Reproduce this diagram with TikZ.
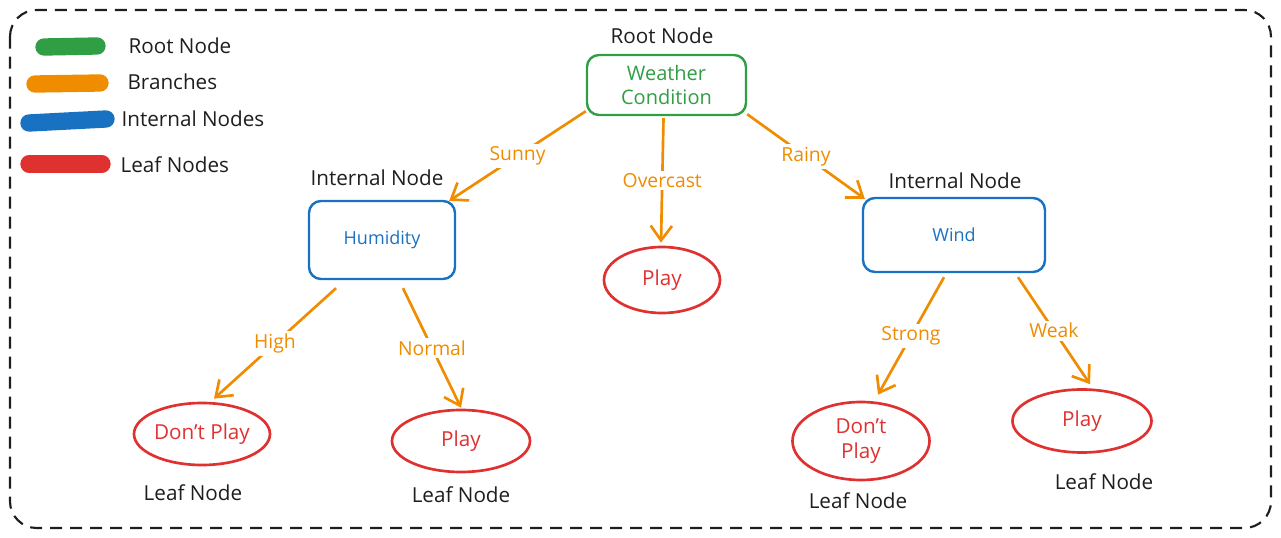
\documentclass[tikz,border=0pt]{standalone}
\usepackage{fontspec}
\setmainfont{Open Sans}
\usetikzlibrary{shapes.geometric,arrows.meta,calc}
\definecolor{cgreen}{HTML}{2F9E44}
\definecolor{corange}{HTML}{F08C00}
\definecolor{cblue}{HTML}{1971C2}
\definecolor{cred}{HTML}{E03131}
\definecolor{cink}{HTML}{1E1E1E}
\tikzset{
  txt/.style={text=cink, font=\fontsize{15.5}{17}\selectfont, inner sep=1pt},
  rootbox/.style={draw=cgreen, line width=1.8pt, rounded corners=9pt, text=cgreen, align=center,
     font=\fontsize{15}{18.5}\selectfont, minimum width=119.25pt, minimum height=45pt, inner sep=0pt},
  intbox/.style={draw=cblue, line width=1.8pt, rounded corners=9pt, text=cblue,
     font=\fontsize{13.5}{15}\selectfont, inner sep=0pt},
  leaf/.style={ellipse, draw=cred, line width=2pt, text=cred, align=center,
     font=\fontsize{15.5}{19}\selectfont, inner sep=0pt},
  branch/.style={draw=corange, line width=2pt, -{Straight Barb[length=11pt,width=16pt,line width=2pt]}},
  blab/.style={fill=white, text=corange, font=\fontsize{14.5}{16}\selectfont, inner sep=2pt},
  legstroke/.style={line width=13pt, line cap=round},
}
\begin{document}
\begin{tikzpicture}[x=0.75pt,y=-0.75pt]
\useasboundingbox (0,0) rectangle (1281,538);
% outer frame
\draw[cink, line width=1.6pt, dash pattern=on 9pt off 6pt, rounded corners=20pt] (10,10) rectangle (1271,528);

% legend
\draw[legstroke, cgreen] (44,47) -- (97,46);
\draw[legstroke, corange] (35,84) -- (100,83);
\draw[legstroke, cblue] (29,123) -- (106,119);
\draw[legstroke, cred] (29,164) -- (102,164);
\node[txt, anchor=west] (lroot) at (127,46) {Root Node};
\node[txt, anchor=west] (lbranch) at (126,82) {Branches};
\node[txt, anchor=west] (lint) at (120,119) {Internal Nodes};
\node[txt, anchor=west] (lleaf) at (119,165) {Leaf Nodes};

% nodes
\node[rootbox] (root) at (666.5,85) {Weather\\Condition};
\node[intbox, minimum width=109.5pt, minimum height=58.5pt] (hum) at (382,240) {Humidity};
\node[intbox, minimum width=136.5pt, minimum height=55.5pt] (wind) at (954,235) {Wind};
\node[leaf, minimum width=87pt, minimum height=49.5pt] (play1) at (662,280) {Play};
\node[leaf, minimum width=102pt, minimum height=46.5pt] (dp1) at (202,434) {Don't Play};
\node[leaf, minimum width=103.5pt, minimum height=46.5pt] (play2) at (461,441) {Play};
\node[leaf, minimum width=102.75pt, minimum height=58.5pt] (dp2) at (861,441) {Don't\\Play};
\node[leaf, minimum width=104.25pt, minimum height=47.25pt] (play3) at (1082,421) {Play};

% labels
\node[txt] (troot) at (662,36) {Root Node};
\node[txt] (tint1) at (377,178) {Internal Node};
\node[txt] (tint2) at (955,181) {Internal Node};
\node[txt] (tleaf1) at (193,493) {Leaf Node};
\node[txt] (tleaf2) at (461,495) {Leaf Node};
\node[txt] (tleaf3) at (858,501) {Leaf Node};
\node[txt] (tleaf4) at (1104,482) {Leaf Node};

% branches
\draw[branch] ($(root.south west)+(0,-5)$) -- node[blab] {Sunny} ($(hum.north east)+(-7,1)$);
\draw[branch] ($(root.south)+(-3,2)$) -- node[blab] {Overcast} ($(play1.north)+(-1,-3)$);
\draw[branch] ($(root.south east)+(0,-2)$) -- node[blab] {Rainy} ($(wind.north west)+(3,2)$);
\draw[branch] ($(hum.south)+(-46,8)$) -- node[blab] {High} ($(dp1.north)+(12,-3)$);
\draw[branch] ($(hum.south)+(21,8)$) -- node[blab] {Normal} ($(play2.north)+(0,-1)$);
\draw[branch] ($(wind.south)+(-10,4)$) -- node[blab] {Strong} ($(dp2.north)+(17,-6)$);
\draw[branch] ($(wind.south)+(64,4)$) -- node[blab] {Weak} ($(play3.north)+(8,-4)$);
\end{tikzpicture}
\end{document}
